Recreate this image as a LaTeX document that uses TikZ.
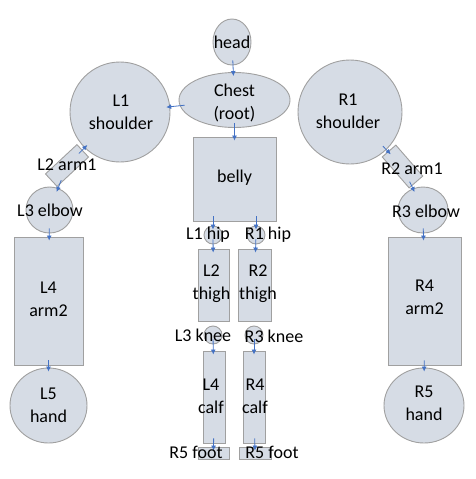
\documentclass[tikz,border=0pt]{standalone}
\usepackage{fontspec}
\setmainfont{Carlito}
\usetikzlibrary{shapes.geometric,arrows.meta}
\definecolor{partfill}{HTML}{D6DCE5}
\definecolor{partline}{HTML}{A0A0A0}
\definecolor{linkblue}{HTML}{4472C4}
\tikzset{
  part/.style={draw=partline,fill=partfill,line width=0.9pt,inner sep=0pt},
  joint/.style={part,ellipse},
  bone/.style={part,rectangle},
  tag/.style={font=\fontsize{18}{23}\selectfont,align=center,inner sep=0pt},
  link/.style={-{Latex[length=5pt,width=5pt]},linkblue,line width=0.8pt,
    shorten <=-5pt,shorten >=-4pt}
}
\begin{document}
\begin{tikzpicture}[x=1pt,y=-1pt]
    \useasboundingbox (0,0) rectangle (475,479);

    % trunk
    \node[joint,minimum width=38pt,minimum height=46pt] (head) at (232,42) {};
    \node[joint,minimum width=111pt,minimum height=55pt] (chest) at (234.5,100) {};
    \node[bone,minimum width=83pt,minimum height=84pt] (belly) at (234.5,179) {};

    % arms
    \node[joint,minimum size=100pt] (lshoulder) at (120,112) {};
    \node[joint,minimum size=104pt] (rshoulder) at (350,112) {};
    \node[bone,minimum width=43pt,minimum height=17pt,rotate=43] (larm1) at (67,165.5) {};
    \node[bone,minimum width=41pt,minimum height=18pt,rotate=-49] (rarm1) at (402.5,166.5) {};
    \node[joint,minimum width=47pt,minimum height=46pt] (lelbow) at (49.5,210) {};
    \node[joint,minimum width=50pt,minimum height=46pt] (relbow) at (423,210) {};
    \node[bone,minimum width=69pt,minimum height=128pt] (larm2) at (48.5,301) {};
    \node[bone,minimum width=73pt,minimum height=128pt] (rarm2) at (424.5,301) {};
    \node[joint,minimum width=77pt,minimum height=75pt] (lhand) at (48.5,405.5) {};
    \node[joint,minimum width=80pt,minimum height=75pt] (rhand) at (424,405.5) {};

    % legs
    \node[joint,minimum size=18pt] (lhip) at (213,235) {};
    \node[joint,minimum size=18pt] (rhip) at (256,235) {};
    \node[bone,minimum width=31pt,minimum height=72pt] (lthigh) at (213.5,285) {};
    \node[bone,minimum width=33pt,minimum height=72pt] (rthigh) at (254.5,285) {};
    \node[joint,minimum size=18pt] (lknee) at (213,335) {};
    \node[joint,minimum size=18pt] (rknee) at (254,335) {};
    \node[bone,minimum width=22pt,minimum height=92pt] (lcalf) at (214,397) {};
    \node[bone,minimum width=22pt,minimum height=92pt] (rcalf) at (254,397) {};
    \node[bone,minimum width=31pt,minimum height=12pt] (lfoot) at (213.5,453) {};
    \node[bone,minimum width=32pt,minimum height=12pt] (rfoot) at (255,453) {};

    % links
    \draw[link] (head) -- (chest);
    \draw[link] (chest) -- (lshoulder);
    \draw[link] (chest) -- (belly);
    \draw[link] (larm1) -- (lshoulder);
    \draw[link] (larm1) -- (lelbow);
    \draw[link] (lelbow) -- (larm2);
    \draw[link] (larm2) -- (lhand);
    \draw[link] (rshoulder) -- (rarm1);
    \draw[link] (rarm1) -- (relbow);
    \draw[link] (relbow) -- (rarm2);
    \draw[link] (rarm2) -- (rhand);
    \draw[link] (belly.south -| lhip) -- (lhip);
    \draw[link] (belly.south -| rhip) -- (rhip);
    \draw[link] (lhip) -- (lthigh);
    \draw[link] (rhip) -- (rthigh);
    \draw[link] (lknee) -- (lcalf);
    \draw[link] (rknee) -- (rcalf);
    \draw[link] (lcalf) -- (lfoot);
    \draw[link] (rcalf) -- (rfoot);

    % texts
    \node[tag] (headtext) at (232,42) {head};
    \node[tag] (chesttext) at (234.5,103) {Chest\\(root)};
    \node[tag] (bellytext) at (234.5,178) {belly};
    \node[tag] (lshouldertext) at (121,112) {L1\\shoulder};
    \node[tag] (rshouldertext) at (348,111) {R1\\shoulder};
    \node[tag] (larm1text) at (67,165) {L2 arm1};
    \node[tag] (rarm1text) at (412,169) {R2 arm1};
    \node[tag] (lelbowtext) at (50,210) {L3 elbow};
    \node[tag] (relbowtext) at (426,211) {R3 elbow};
    \node[tag] (larm2text) at (48.5,299) {L4\\arm2};
    \node[tag] (rarm2text) at (424.5,297) {R4\\arm2};
    \node[tag] (lhandtext) at (48.5,405) {L5\\hand};
    \node[tag] (rhandtext) at (424,403) {R5\\hand};
    \node[tag] (lhiptext) at (208,235) {L1 hip};
    \node[tag] (rhiptext) at (268,235) {R1 hip};
    \node[tag] (lthightext) at (211.5,284) {L2\\thigh};
    \node[tag] (rthightext) at (258,284) {R2\\thigh};
    \node[tag] (lkneetext) at (203,335) {L3 knee};
    \node[tag] (rkneetext) at (274,336) {R3 knee};
    \node[tag] (lcalftext) at (211,396) {L4\\calf};
    \node[tag] (rcalftext) at (255,396) {R4\\calf};
    \node[tag] (lfoottext) at (196,452) {R5 foot};
    \node[tag] (rfoottext) at (272,452) {R5 foot};
\end{tikzpicture}
\end{document}
